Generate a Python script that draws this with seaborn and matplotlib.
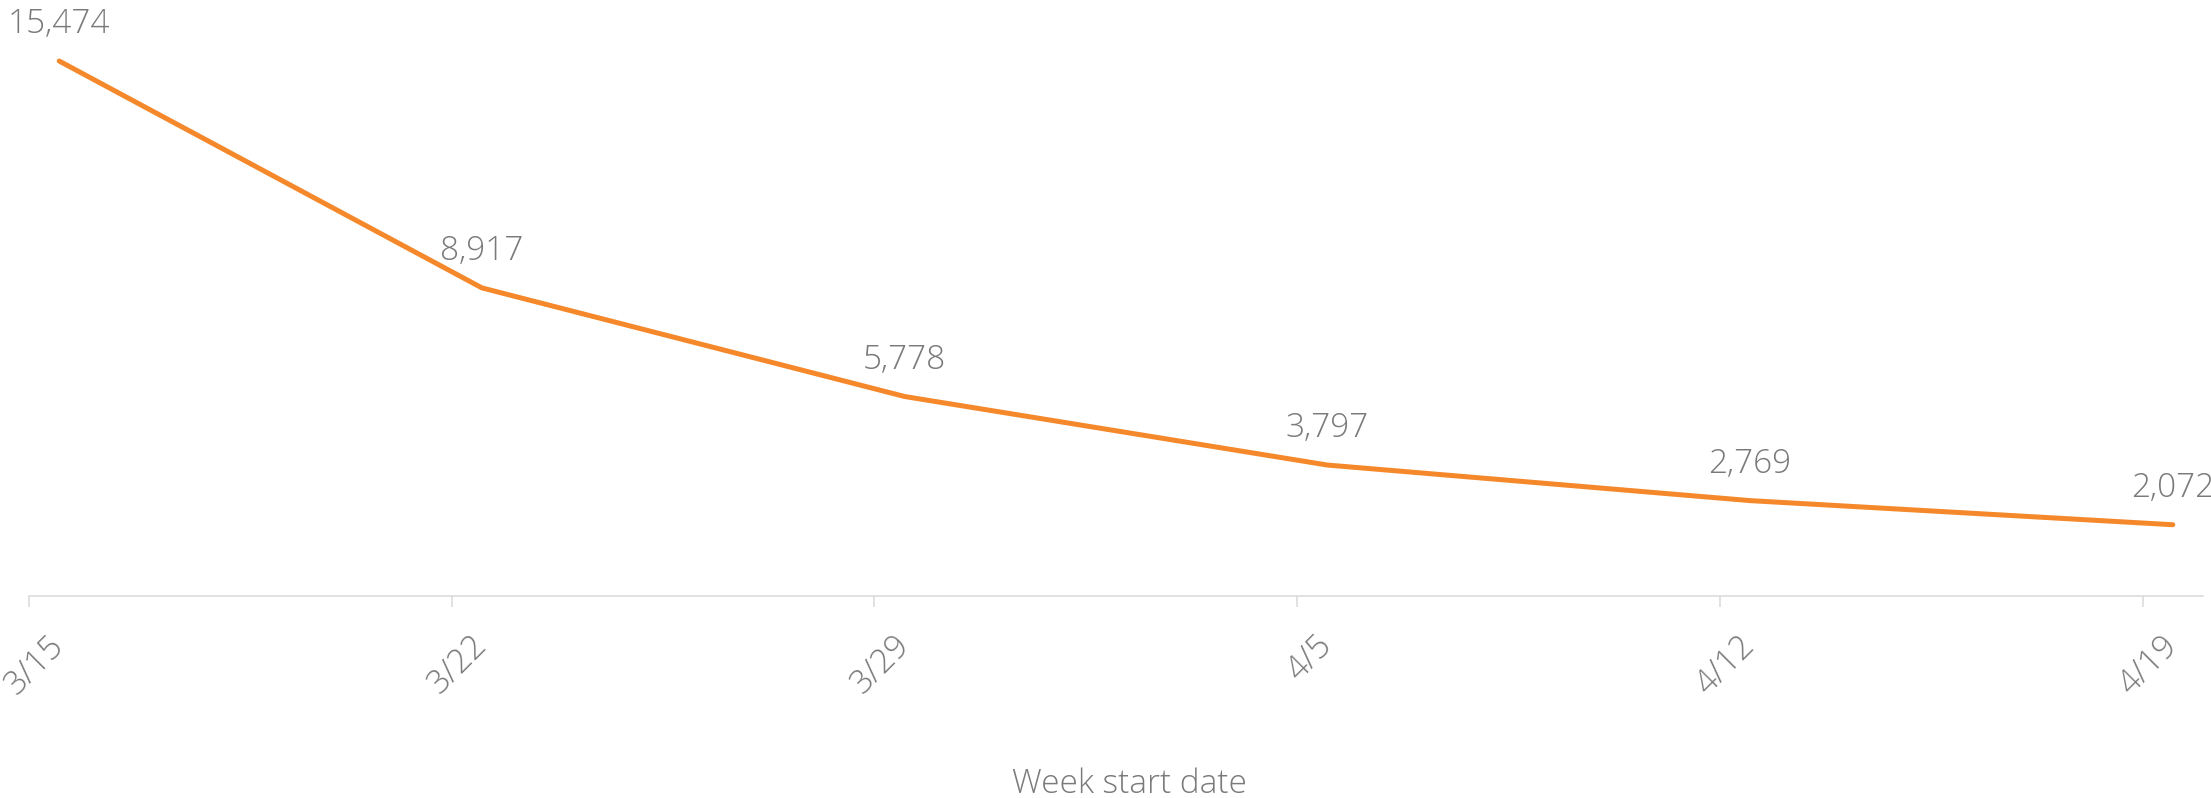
import pandas as pd
import numpy as np
import matplotlib
matplotlib.use("Agg")
import matplotlib.pyplot as plt
import seaborn as sns

# weekly counts
week_start = ["2020-03-15", "2020-03-22", "2020-03-29", "2020-04-05", "2020-04-12", "2020-04-19"]
week_labels = ["3/15", "3/22", "3/29", "4/5", "4/12", "4/19"]
counts = [15474, 8917, 5778, 3797, 2769, 2072]

dates = pd.to_datetime(week_start)
days = (dates - dates[0]).days.to_numpy().astype(float)
df = pd.DataFrame({"day": days + 0.5, "count": counts})

sns.set_style("white")
plt.rcParams["font.family"] = ["Open Sans", "DejaVu Sans"]

grey = "#7a7a7a"
axis_grey = "#d9d9d9"
orange = "#F5882A"

fig = plt.figure(figsize=(22.11, 7.98), dpi=100)
ax = fig.add_axes([0.01312, 0.2526, 0.98326, 0.7371])

sns.lineplot(data=df, x="day", y="count", color=orange, linewidth=3.6, ax=ax)
ax.lines[0].set_solid_capstyle("round")
ax.lines[0].set_solid_joinstyle("round")

for x, v in zip(df["day"], df["count"]):
    ax.annotate(f"{v:,}", (x, v), xytext=(0, 28), textcoords="offset pixels",
                ha="center", va="baseline", fontsize=24, color=grey,
                fontweight="light", annotation_clip=False)

ax.set_xlim(0, 36)
ax.set_ylim(0, 17000)

# labels under the points, tick marks on the week boundaries
ax.set_xticks(df["day"])
ax.set_xticklabels(week_labels, rotation=45, ha="right", rotation_mode="anchor",
                   va="center", fontsize=24, color=grey, fontweight="light")
ax.set_xticks(days, minor=True)
ax.tick_params(axis="x", which="major", length=0, pad=32)
ax.tick_params(axis="x", which="minor", length=8, width=1.1, color=axis_grey, bottom=True)
ax.set_yticks([])

for s in ["top", "right", "left"]:
    ax.spines[s].set_visible(False)
ax.spines["bottom"].set_color(axis_grey)
ax.spines["bottom"].set_linewidth(1.1)

ax.set_xlabel("Week start date", fontsize=24, color=grey, fontweight="light")
ax.xaxis.label.set_va("baseline")
ax.xaxis.set_label_coords(0.5064, -0.3342)
ax.set_ylabel("")

fig.savefig("out.png", dpi=100)
